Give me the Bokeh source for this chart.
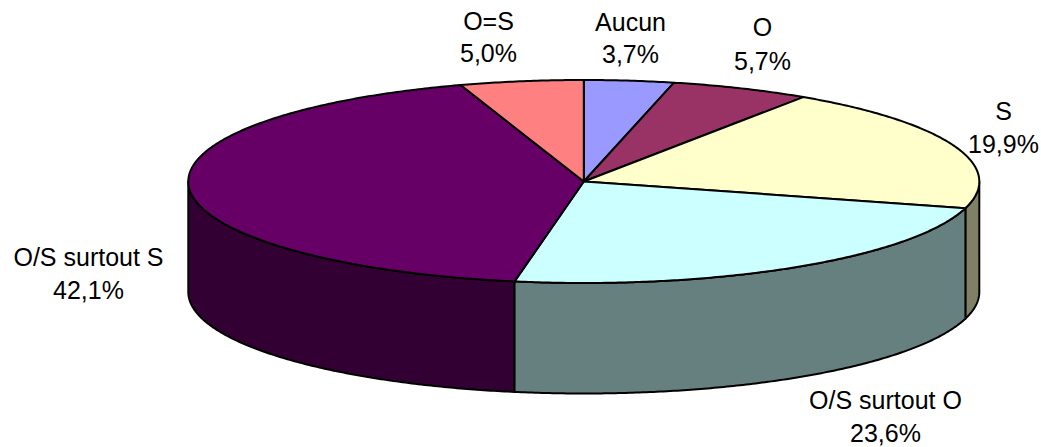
import numpy as np
from bokeh.plotting import figure
from bokeh.models import Range1d
from bokeh.core.properties import value
from bokeh.embed import file_html
from bokeh.resources import INLINE

categories = ["Aucun", "O", "S", "O/S surtout O", "O/S surtout S", "O=S"]
shares = [3.66, 5.7, 19.86, 23.56, 42.14, 5.04]
top_colors = ["#9999FF", "#993366", "#FFFFCC", "#CCFFFF", "#660066", "#FF8080"]
side_colors = ["#4D4D80", "#4D1A33", "#808066", "#668080", "#330033", "#804040"]

# label layout (centre of the two-line block, page pixels)
label_x = [630, 762, 1003, 885, 88, 488]
label_y = [37.5, 43.5, 126.5, 415.5, 272.5, 36]
label_gap = [32, 34, 33, 33, 33, 32]

CX, CY, RX, RY, DEPTH = 583.3, 181.0, 395.5, 101.5, 110.5

W, H = 1041, 447
p = figure(width=W, height=H, x_range=Range1d(0, W), y_range=Range1d(H, 0),
           output_backend="svg", toolbar_location=None, min_border=0,
           outline_line_color=None, background_fill_color="white")
p.axis.visible = False
p.grid.visible = False


def arc(a0, a1):
    t = np.radians(np.linspace(a0, a1, max(int(abs(a1 - a0) * 2), 2)))
    return CX + RX * np.sin(t), CY - RY * np.cos(t)


total = sum(shares)
edges = np.concatenate([[0], np.cumsum(shares)]) / total * 360
LW = 2.0

# side walls: only the near half of the rim is visible; draw far-to-near
for i in [2, 4, 3]:
    a0, a1 = max(edges[i], 90), min(edges[i + 1], 270)
    x, y = arc(a0, a1)
    p.patch(np.concatenate([x, x[::-1]]), np.concatenate([y, y[::-1] + DEPTH]),
            fill_color=side_colors[i], line_color="black", line_width=LW, line_join="round")

# top face
for i in range(len(shares)):
    x, y = arc(edges[i], edges[i + 1])
    p.patch(np.concatenate([[CX], x]), np.concatenate([[CY], y]),
            fill_color=top_colors[i], line_color="black", line_width=LW, line_join="round")

# labels
for name, v, lx, ly, gap in zip(categories, shares, label_x, label_y, label_gap):
    for txt, yy in ((name, ly - gap / 2), (f"{v:.1f}%".replace(".", ","), ly + gap / 2)):
        p.text([lx], [yy], text=[txt], text_font=value("Liberation Sans"), text_font_size="25px",
               text_color="black", text_align="center", text_baseline="middle")

open("out.html", "w").write(file_html(p, INLINE))
